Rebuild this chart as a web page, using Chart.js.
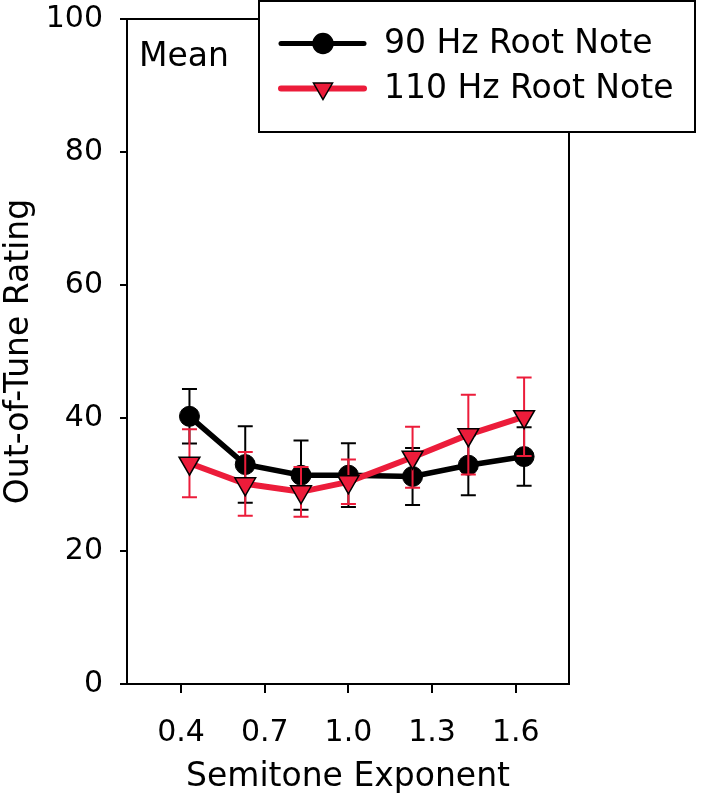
<!DOCTYPE html>
<html>
<head>
<meta charset="utf-8">
<script src="https://cdn.jsdelivr.net/npm/chart.js@4/dist/chart.umd.min.js"></script>
<style>
  html, body { margin: 0; padding: 0; background: #ffffff; }
  #wrap { width: 701px; height: 800px; }
</style>
</head>
<body>
<div id="wrap"><canvas id="c" width="701" height="800"></canvas></div>
<script>
// ---- Data ----
const semitoneExponent = [0.43, 0.63, 0.83, 1.0, 1.23, 1.43, 1.63];
const root90Mean = [40.25, 33.0, 31.4, 31.4, 31.2, 32.9, 34.2];
const root90Err  = [4.1, 5.75, 5.2, 4.8, 4.3, 4.5, 4.4];
const root110Mean = [33.2, 30.1, 28.9, 30.4, 34.1, 37.5, 40.2];
const root110Err  = [5.1, 4.8, 3.75, 3.35, 4.6, 6.0, 5.9];
const xTickValues = [0.4, 0.7, 1.0, 1.3, 1.6];
const xTickLabels = ['0.4', '0.7', '1.0', '1.3', '1.6'];
const yTickValues = [0, 20, 40, 60, 80, 100];
const seriesNames = ['90 Hz Root Note', '110 Hz Root Note'];
const panelLabel = 'Mean';

const RED = '#ec1c3a';
const FONT = "'DejaVu Sans', 'Liberation Sans', Arial, sans-serif";
const TICK_FS = 30;
const TITLE_FS = 33;

function pts(xs, ys) { return xs.map((x, i) => ({ x: x, y: ys[i] })); }

const errorBarPlugin = {
  id: 'errorBars',
  beforeDatasetDraw(chart, args) {
    const ds = chart.data.datasets[args.index];
    if (!ds.errors) return;
    const ctx = chart.ctx;
    const xs = chart.scales.x, ys = chart.scales.y;
    ctx.save();
    ctx.strokeStyle = ds.errColor;
    ctx.lineWidth = 2;
    const cap = 7.5;
    ds.data.forEach((p, i) => {
      const px = xs.getPixelForValue(p.x);
      const yt = ys.getPixelForValue(p.y + ds.errors[i]);
      const yb = ys.getPixelForValue(p.y - ds.errors[i]);
      ctx.beginPath();
      ctx.moveTo(px, yt); ctx.lineTo(px, yb);
      ctx.moveTo(px - cap, yt); ctx.lineTo(px + cap, yt);
      ctx.moveTo(px - cap, yb); ctx.lineTo(px + cap, yb);
      ctx.stroke();
    });
    ctx.restore();
  }
};

const framePlugin = {
  id: 'frame',
  afterDraw(chart) {
    const ctx = chart.ctx;
    const a = chart.chartArea;
    ctx.save();
    ctx.strokeStyle = '#000';
    ctx.lineWidth = 2;
    ctx.beginPath();
    ctx.moveTo(a.left, a.top); ctx.lineTo(a.right, a.top); ctx.lineTo(a.right, a.bottom);
    ctx.stroke();
    // panel label
    ctx.fillStyle = '#000';
    ctx.font = TITLE_FS + 'px ' + FONT;
    ctx.textAlign = 'left';
    ctx.textBaseline = 'middle';
    ctx.fillText(panelLabel, a.left + 12, 57);
    // legend box
    const bx = 259, by = 1, bw = 436, bh = 131;
    ctx.fillStyle = '#fff';
    ctx.fillRect(bx, by, bw, bh);
    ctx.strokeRect(bx, by, bw, bh);
    const rows = [
      { y: 43.5, color: '#000', lw: 5, style: 'circle', r: 10, rot: 0 },
      { y: 88.5, color: RED, lw: 6, style: 'triangle', r: 11, rot: 180 }
    ];
    rows.forEach((row, i) => {
      ctx.strokeStyle = row.color;
      ctx.lineWidth = row.lw;
      ctx.lineCap = 'round';
      ctx.beginPath();
      ctx.moveTo(281, row.y); ctx.lineTo(364, row.y);
      ctx.stroke();
      ctx.fillStyle = row.color;
      ctx.strokeStyle = '#000';
      ctx.lineWidth = 1.5;
      Chart.helpers.drawPoint(ctx, { pointStyle: row.style, radius: row.r, rotation: row.rot, borderWidth: 1.5 }, 323, row.y);
      ctx.fillStyle = '#000';
      ctx.font = TITLE_FS + 'px ' + FONT;
      ctx.textBaseline = 'middle';
      ctx.fillText(seriesNames[i], 384, row.y + 1);
    });
    ctx.restore();
  }
};

new Chart(document.getElementById('c'), {
  type: 'line',
  data: {
    datasets: [
      {
        label: seriesNames[0],
        data: pts(semitoneExponent, root90Mean),
        errors: root90Err,
        errColor: '#000',
        borderColor: '#000',
        backgroundColor: '#000',
        borderWidth: 5.5,
        pointStyle: 'circle',
        pointRadius: 10,
        pointBorderWidth: 1,
        pointBorderColor: '#000',
        pointBackgroundColor: '#000',
        order: 1
      },
      {
        label: seriesNames[1],
        data: pts(semitoneExponent, root110Mean),
        errors: root110Err,
        errColor: RED,
        borderColor: RED,
        backgroundColor: RED,
        borderWidth: 6,
        pointStyle: 'triangle',
        pointRotation: 180,
        pointRadius: 12,
        pointBorderWidth: 1.5,
        pointBorderColor: '#000',
        pointBackgroundColor: RED,
        order: 0
      }
    ]
  },
  options: {
    responsive: false,
    animation: false,
    events: [],
    layout: { padding: { left: 0, right: 132, top: 19, bottom: 0 } },
    plugins: { legend: { display: false }, tooltip: { enabled: false } },
    scales: {
      x: {
        type: 'linear',
        min: 0.206,
        max: 1.791,
        afterBuildTicks(scale) { scale.ticks = xTickValues.map(v => ({ value: v })); },
        afterFit(scale) { scale.height = 116; scale.paddingLeft = 0; scale.paddingRight = 0; },
        grid: { drawOnChartArea: false, drawTicks: true, tickLength: 9, color: '#000', lineWidth: 2 },
        border: { display: true, color: '#000', width: 2 },
        ticks: {
          color: '#000',
          font: { family: FONT, size: TICK_FS },
          padding: 22,
          maxRotation: 0,
          autoSkip: false,
          callback(value, index) { return xTickLabels[index]; }
        },
        title: {
          display: true,
          text: 'Semitone Exponent',
          color: '#000',
          font: { family: FONT, size: TITLE_FS },
          padding: { top: 0, bottom: 3 }
        }
      },
      y: {
        type: 'linear',
        min: 0,
        max: 100,
        afterBuildTicks(scale) { scale.ticks = yTickValues.map(v => ({ value: v })); },
        afterFit(scale) { scale.width = 127; scale.paddingTop = 0; scale.paddingBottom = 0; },
        grid: { drawOnChartArea: false, drawTicks: true, tickLength: 7, color: '#000', lineWidth: 2 },
        border: { display: true, color: '#000', width: 2 },
        ticks: {
          color: '#000',
          font: { family: FONT, size: TICK_FS },
          padding: 17
        },
        title: {
          display: true,
          text: 'Out-of-Tune Rating',
          color: '#000',
          font: { family: FONT, size: TITLE_FS },
          padding: { top: 0, bottom: 0 }
        }
      }
    }
  },
  plugins: [errorBarPlugin, framePlugin]
});
</script>
</body>
</html>
